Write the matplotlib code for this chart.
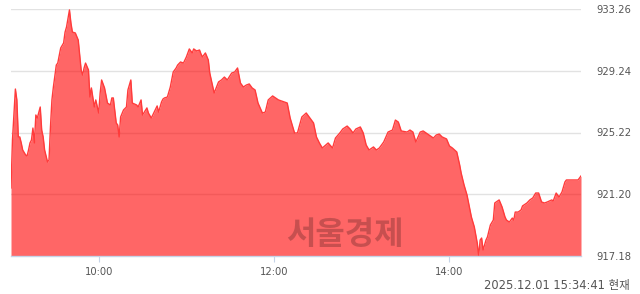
import matplotlib
matplotlib.use("Agg")
import matplotlib.pyplot as plt

# minutes after 09:00 and index value
minutes = [0, 1, 3, 4, 5, 6, 7, 8, 10, 11, 12, 13, 14, 15, 16, 17, 18, 20, 21, 22,
           23, 25, 26, 27, 28, 29, 31, 32, 34, 36, 37, 38, 40, 41, 42, 44, 46, 48, 49, 50,
           51, 53, 54, 55, 57, 58, 60, 61, 62, 64, 66, 68, 69, 70, 72, 73, 74, 75, 77, 79,
           80, 82, 83, 86, 87, 89, 90, 93, 94, 96, 98, 100, 101, 103, 104, 105, 107, 109, 111, 113,
           114, 116, 118, 120, 122, 124, 125, 127, 129, 130, 131, 133, 135, 136, 139, 142, 144, 146, 148, 151,
           153, 155, 157, 159, 161, 163, 165, 167, 169, 172, 174, 176, 179, 183, 187, 189, 191, 194, 196, 199,
           202, 204, 207, 209, 211, 213, 217, 220, 222, 225, 227, 230, 232, 234, 236, 239, 241, 243, 245, 248,
           250, 252, 255, 258, 261, 263, 265, 267, 271, 273, 275, 277, 280, 282, 284, 287, 289, 291, 293, 295,
           298, 300, 302, 305, 307, 308, 310, 312, 315, 317, 319, 320, 321, 322, 323, 325, 326, 328, 330, 331,
           332, 334, 336, 338, 339, 341, 343, 344, 345, 347, 349, 350, 353, 355, 357, 359, 361, 363, 365, 367,
           370, 371, 373, 375, 377, 379, 380, 384, 388, 390]
prices = [921.61, 924.73, 928.05, 927.34, 924.93, 924.93, 924.54, 924.08, 923.76, 923.69,
          924.08, 924.54, 924.73, 925.51, 924.54, 926.36, 926.16, 926.88, 925.38, 924.93,
          924.08, 923.30, 923.43, 925.58, 927.34, 928.18, 929.61, 929.74, 930.72, 931.05,
          931.76, 932.09, 933.20, 932.35, 931.76, 931.70, 931.24, 929.29, 928.96, 929.42,
          929.74, 929.29, 927.53, 928.12, 926.88, 927.34, 926.49, 927.79, 928.64, 928.12,
          927.14, 927.01, 927.47, 927.47, 925.84, 925.71, 924.93, 926.23, 926.69, 926.88,
          927.99, 928.64, 927.14, 927.01, 926.88, 927.34, 926.36, 926.82, 926.49, 926.16,
          926.55, 926.95, 926.55, 927.21, 927.40, 927.47, 927.53, 928.18, 929.16, 929.42,
          929.61, 929.81, 929.74, 930.14, 930.66, 930.40, 930.66, 930.53, 930.59, 930.33,
          930.14, 930.40, 929.94, 929.09, 927.79, 928.51, 928.64, 928.83, 928.64, 929.09,
          929.16, 929.42, 928.44, 928.18, 928.31, 928.38, 928.12, 927.99, 927.14, 926.49,
          926.55, 927.34, 927.60, 927.34, 927.21, 927.14, 926.16, 925.19, 925.19, 926.23,
          926.49, 926.23, 925.84, 924.93, 924.54, 924.21, 924.54, 924.21, 924.86, 925.19,
          925.45, 925.64, 925.45, 925.19, 925.45, 925.58, 925.19, 924.41, 924.08, 924.28,
          924.08, 924.21, 924.60, 925.25, 925.38, 926.03, 925.90, 925.32, 925.25, 925.38,
          925.25, 924.60, 925.25, 925.32, 925.19, 924.99, 924.86, 925.06, 925.12, 924.93,
          924.80, 924.34, 924.21, 923.95, 923.10, 922.58, 921.80, 921.15, 919.72, 919.07,
          918.03, 917.18, 918.22, 918.35, 917.57, 918.22, 918.42, 919.20, 919.52, 920.63,
          920.70, 920.83, 920.37, 919.72, 919.52, 919.39, 919.65, 919.52, 920.04, 920.04,
          920.18, 920.44, 920.63, 920.83, 920.96, 921.28, 921.28, 920.70, 920.63, 920.70,
          920.83, 920.76, 921.28, 921.02, 921.35, 922.00, 922.13, 922.13, 922.13, 922.39]

y_ticks = [917.18, 921.20, 925.22, 929.24, 933.26]
x_ticks = [60, 180, 300]
x_labels = ["10:00", "12:00", "14:00"]
stamp = "2025.12.01 15:34:41 현재"
watermark = "서울경제"

plt.rcParams["font.family"] = ["DejaVu Sans", "Noto Sans CJK KR"]

fig = plt.figure(figsize=(6.4, 2.94), dpi=100)
ax = fig.add_axes([11 / 640, 38 / 294, 570 / 640, 247 / 294])

for v in y_ticks:
    ax.axhline(v, color="#e2e2e2", lw=1, zorder=0)

ax.fill_between(minutes, prices, y_ticks[0], color="#ff0000", alpha=0.6, lw=0, zorder=1)
ax.plot(minutes, prices, color="#ff3b3b", lw=1, zorder=2)

ax.set_xlim(0, 390)
ax.set_ylim(y_ticks[0], y_ticks[-1])

for s in ["top", "left", "right"]:
    ax.spines[s].set_visible(False)
ax.spines["bottom"].set_color("#c6d4e8")
ax.spines["bottom"].set_linewidth(1)

ax.set_xticks(x_ticks)
ax.set_xticklabels(x_labels)
ax.tick_params(axis="x", length=4, color="#c6d4e8", pad=4, labelsize=7.2, labelcolor="#555555")

ax.yaxis.tick_right()
ax.set_yticks(y_ticks)
ax.set_yticklabels([f"{v:.2f}" for v in y_ticks])
ax.tick_params(axis="y", length=0, pad=11, labelsize=7.2, labelcolor="#555555")

ax.text(0.586, 0.085, watermark, transform=ax.transAxes, ha="center", va="center",
        fontsize=23, fontweight="bold", color="black", alpha=0.22,
        family=["Noto Sans CJK KR"], zorder=3)

fig.text(630 / 640, 1 - 286 / 294, stamp, ha="right", va="center",
         fontsize=8.3, color="#555555")

fig.savefig("out.png", dpi=100)
